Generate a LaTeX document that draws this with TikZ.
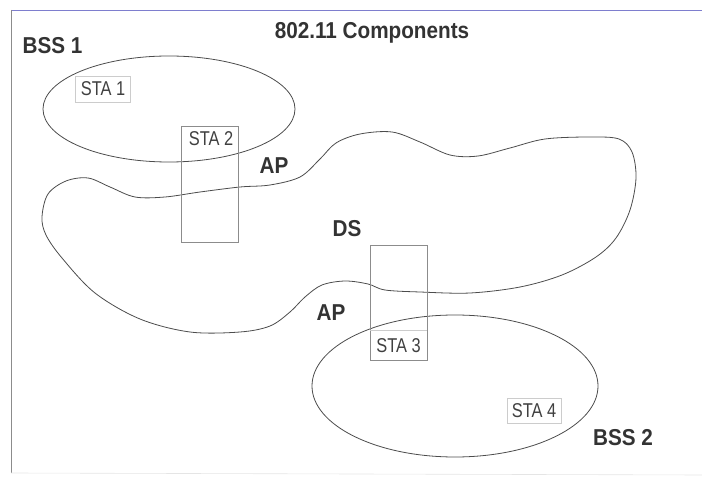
\documentclass[tikz,border=0pt]{standalone}
\usepackage{fontspec}
\setmainfont{Liberation Sans}
\newfontfamily\bigfont[FakeStretch=0.9]{Liberation Sans}
\newfontfamily\stafont[FakeStretch=0.82]{Liberation Sans}
\begin{document}
\begin{tikzpicture}[x=1pt,y=-1pt,
  outline/.style={draw=black!70, line width=0.8pt},
  stabox/.style={draw=black!45, line width=0.6pt},
  faintbox/.style={draw=black!20, line width=0.5pt},
  biglabel/.style={font=\bigfont\fontsize{23}{23}\selectfont\bfseries, text=black!80, inner sep=0pt},
  stalabel/.style={font=\stafont\fontsize{20}{20}\selectfont, text=black!75, inner sep=0pt}]
\useasboundingbox (0,0) rectangle (702,478);
% frame
\coordinate (tl) at (11,10);
\coordinate (tr) at (702,10);
\coordinate (bl) at (11,473);
\coordinate (br) at (702,475);
\draw[draw=blue!45!gray!70, line width=0.8pt] (tl) -- (tr);
\draw[draw=black!45, line width=0.9pt] (tl) -- (bl);
\draw[draw=black!10, line width=0.6pt] (bl) -- (br);
% title
\node[biglabel] (title) at (372,33) {802.11 Components};
% BSS 1
\node[biglabel] (bss1) at (52.5,46) {BSS 1};
\draw[outline] (169,109) ellipse [x radius=126, y radius=53];
\node[faintbox, minimum width=55pt, minimum height=26pt, inner sep=0pt] (sta1box) at (103,89) {};
\node[stalabel] (sta1) at (sta1box.center) {STA 1};
% DS blob
\draw[outline] plot[smooth cycle, tension=0.55] coordinates {
 (42,217) (48,194) (66,181) (88,178) (110,187) (135,197) (165,197) (200,192)
 (240,187) (270,185) (300,177) (320,159) (336,143) (360,134) (392,132)
 (420,142) (450,155) (478,156) (510,148) (545,139) (590,137) (619,139)
 (632,152) (636,178) (630,210) (616,238) (596,257) (562,275) (520,287)
 (470,293) (420,292) (385,290) (368,284) (345,281) (322,285) (305,297)
 (290,312) (270,326) (240,332) (190,332) (140,319) (95,293) (62,258) (46,235)};
% BSS 2
\draw[outline] (455,386) ellipse [x radius=143, y radius=71];
\node[biglabel] (bss2) at (623,438) {BSS 2};
% STA 2
\node[stabox, minimum width=57pt, minimum height=116pt, inner sep=0pt] (sta2box) at (209.5,184) {};
\node[stalabel] (sta2) at (211,139) {STA 2};
% STA 3
\node[stabox, minimum width=57pt, minimum height=115pt, inner sep=0pt] (sta3box) at (398.5,302.5) {};
\coordinate (sep3l) at (370,330);
\coordinate (sep3r) at (427,330);
\draw[faintbox] (sep3l) -- (sep3r);
\node[stalabel] (sta3) at (398.5,346) {STA 3};
% STA 4
\node[faintbox, minimum width=54pt, minimum height=25pt, inner sep=0pt] (sta4box) at (534,410.5) {};
\node[stalabel] (sta4) at (sta4box.center) {STA 4};
% labels
\node[biglabel] (ap1) at (274,166) {AP};
\node[biglabel] (ds) at (347,229) {DS};
\node[biglabel] (ap2) at (331,313) {AP};
\end{tikzpicture}
\end{document}
